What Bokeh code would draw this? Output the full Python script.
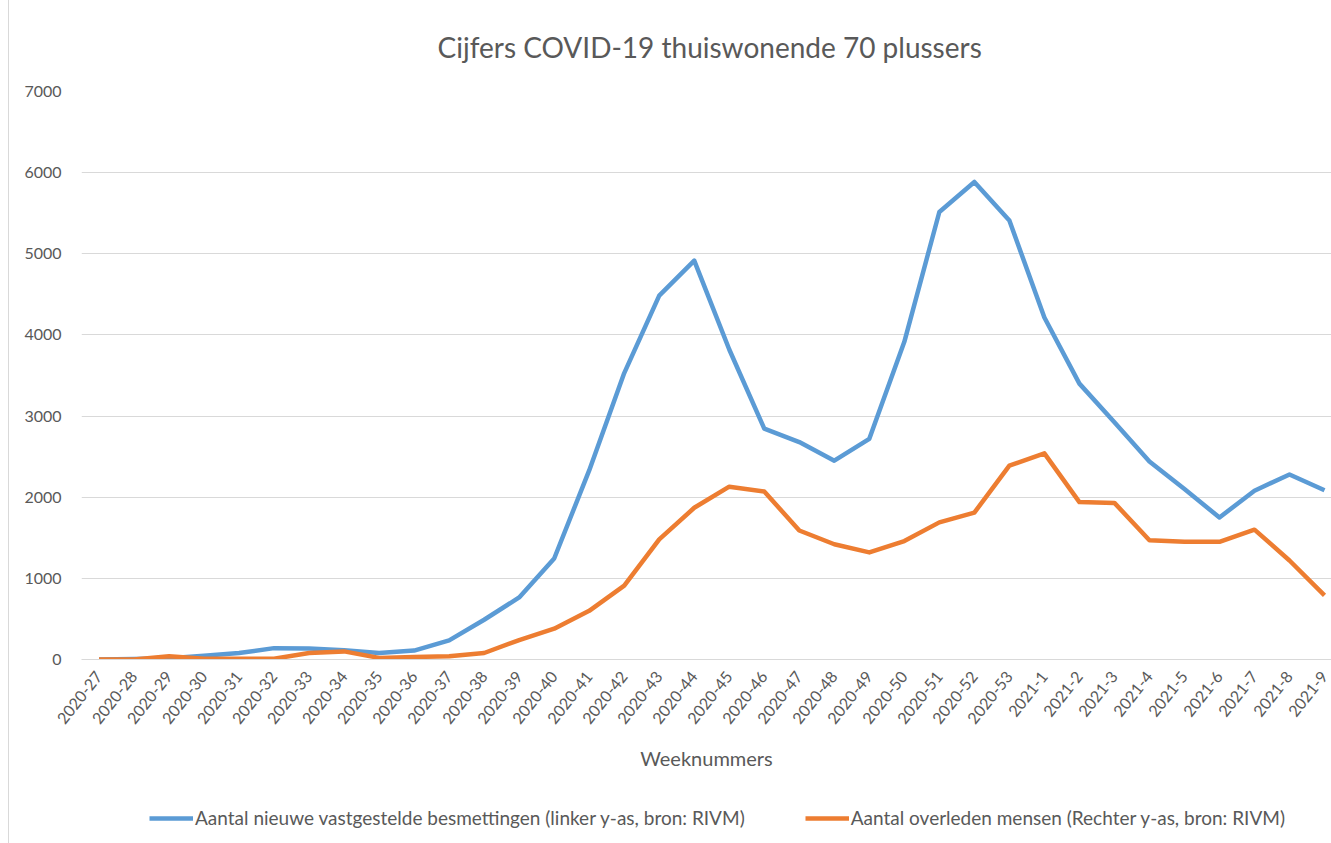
from bokeh.plotting import figure
from bokeh.layouts import column
from bokeh.models import Range1d, FixedTicker, Legend, LegendItem, Title
from bokeh.embed import file_html
from bokeh.resources import INLINE

weeks = ["2020-27", "2020-28", "2020-29", "2020-30", "2020-31", "2020-32", "2020-33",
         "2020-34", "2020-35", "2020-36", "2020-37", "2020-38", "2020-39", "2020-40",
         "2020-41", "2020-42", "2020-43", "2020-44", "2020-45", "2020-46", "2020-47",
         "2020-48", "2020-49", "2020-50", "2020-51", "2020-52", "2020-53", "2021-1",
         "2021-2", "2021-3", "2021-4", "2021-5", "2021-6", "2021-7", "2021-8", "2021-9"]

besmettingen = [0, 5, 15, 45, 80, 140, 135, 115, 80, 110, 235, 490, 765, 1245,
                2330, 3530, 4485, 4915, 3820, 2845, 2680, 2450, 2720, 3915, 5515,
                5885, 5410, 4215, 3400, 2925, 2440, 2100, 1750, 2080, 2280, 2085]

overleden = [0, 0, 4, 1, 1, 1, 8, 10, 2, 3, 4, 8, 24, 38, 60, 91, 148, 187, 213,
             207, 159, 142, 132, 146, 169, 181, 239, 254, 194, 193, 147, 145, 145,
             160, 122, 79]

left_ticks = [0, 1000, 2000, 3000, 4000, 5000, 6000, 7000]

TITLE = "Cijfers COVID-19 thuiswonende 70 plussers"
X_LABEL = "Weeknummers"
LEG_BLUE = "Aantal nieuwe vastgestelde besmettingen (linker y-as, bron: RIVM)"
LEG_ORANGE = "Aantal overleden mensen (Rechter y-as, bron: RIVM)"

FONT = "Lato"
GREY = "#595959"
BLUE = "#5B9BD5"
ORANGE = "#ED7D31"

xs = list(range(len(weeks)))

# ---- main chart ----
p = figure(width=1322, height=775, output_backend="svg", toolbar_location=None,
           x_range=Range1d(-0.5, 35.2), y_range=Range1d(0, 7000),
           min_border_left=72, min_border_right=0, min_border_top=91,
           min_border_bottom=116)
p.extra_y_ranges = {"rechts": Range1d(0, 700)}

p.outline_line_color = None
p.background_fill_color = "white"
p.border_fill_color = "white"

p.title = Title(text=TITLE, align="left", offset=356, text_font=FONT,
                text_font_size="28px", text_color=GREY, text_font_style="normal",
                standoff=55)

yax = p.yaxis[0]
yax.ticker = FixedTicker(ticks=left_ticks)
yax.axis_line_color = None
yax.major_tick_line_color = None
yax.minor_tick_line_color = None
yax.major_label_text_font = FONT
yax.major_label_text_font_size = "16px"
yax.major_label_text_color = GREY
yax.major_label_standoff = 14

xax = p.xaxis[0]
xax.ticker = FixedTicker(ticks=xs)
xax.major_label_overrides = {i: w for i, w in enumerate(weeks)}
xax.major_label_orientation = 0.9
xax.axis_line_color = "#d9d9d9"
xax.major_tick_line_color = None
xax.minor_tick_line_color = None
xax.major_label_text_font = FONT
xax.major_label_text_font_size = "16px"
xax.major_label_text_color = GREY
xax.major_label_standoff = 8
xax.axis_label = X_LABEL
xax.axis_label_text_font = FONT
xax.axis_label_text_font_size = "20px"
xax.axis_label_text_font_style = "normal"
xax.axis_label_text_color = GREY
xax.axis_label_standoff = 14

p.xgrid.grid_line_color = None
p.ygrid.grid_line_color = "#d9d9d9"
p.ygrid.grid_line_width = 1

p.line(xs, besmettingen, line_color=BLUE, line_width=4.5, line_join="round")
p.line(xs, overleden, line_color=ORANGE, line_width=4.5, line_join="round",
       y_range_name="rechts")

# ---- legend strip (hidden copies of the two series carry the legend) ----
q = figure(width=1322, height=68, output_backend="svg", toolbar_location=None,
           x_range=Range1d(0, 1), y_range=Range1d(0, 1),
           min_border=0, x_axis_type=None, y_axis_type=None)
q.outline_line_color = None
q.xgrid.visible = False
q.ygrid.visible = False
d1 = q.line(xs, besmettingen, line_color=BLUE, line_width=4.5, visible=False)
d2 = q.line(xs, overleden, line_color=ORANGE, line_width=4.5, visible=False)

legend = Legend(items=[LegendItem(label=LEG_BLUE, renderers=[d1]),
                       LegendItem(label=LEG_ORANGE, renderers=[d2])],
                orientation="horizontal", location=(68, 14),
                label_text_font=FONT, label_text_font_size="19px",
                label_text_color=GREY, glyph_width=44, label_standoff=2,
                spacing=60, padding=4, margin=0,
                inactive_fill_alpha=0,
                border_line_color=None, background_fill_alpha=0)
q.add_layout(legend)

layout = column(p, q, spacing=0,
                styles={"margin-left": "8px",
                        "border-left": "1px solid #d9d9d9"})

open("out.html", "w").write(file_html(layout, INLINE))
